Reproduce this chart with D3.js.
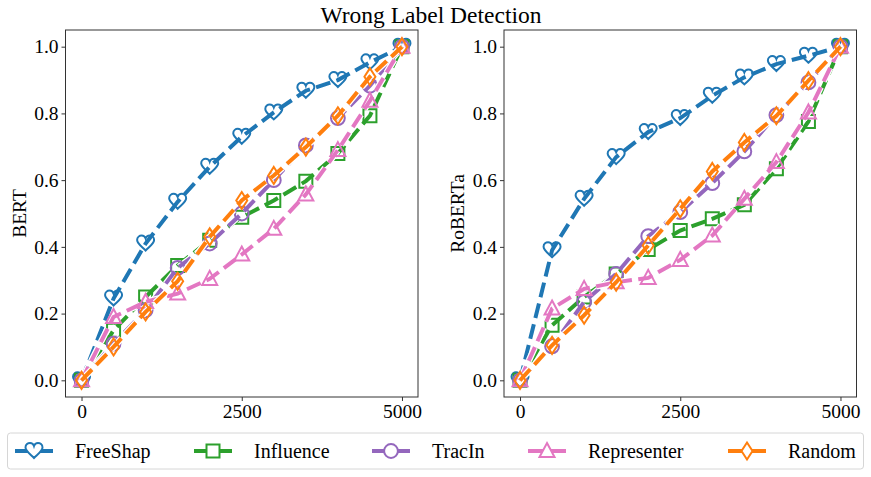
<!DOCTYPE html>
<html>
<head>
<meta charset="utf-8">
<script src="https://cdn.jsdelivr.net/npm/d3@7"></script>
<style>
  body { margin: 0; background: #fff; }
  text { font-family: "Liberation Serif", "Times New Roman", serif; fill: #000; }
</style>
</head>
<body>
<div id="chart"></div>
<script>
const steps = [0, 500, 1000, 1500, 2000, 2500, 3000, 3500, 4000, 4500, 5000];
const methods = ["FreeShap", "Influence", "TracIn", "Representer", "Random"];
const xTicks = [0, 2500, 5000];
const yTicks = [0, 0.2, 0.4, 0.6, 0.8, 1.0];

// BERT
const bertFreeShap    = [0, 0.245, 0.41, 0.535, 0.64, 0.73, 0.803, 0.868, 0.90, 0.953, 1.0];
const bertInfluence   = [0, 0.15, 0.25, 0.344, 0.42, 0.489, 0.539, 0.597, 0.68, 0.793, 1.0];
const bertTracIn      = [0, 0.11, 0.21, 0.337, 0.41, 0.50, 0.60, 0.704, 0.786, 0.883, 1.0];
const bertRepresenter = [0, 0.19, 0.235, 0.26, 0.304, 0.377, 0.454, 0.557, 0.69, 0.838, 1.0];
const bertRandom      = [0, 0.10, 0.205, 0.297, 0.43, 0.539, 0.614, 0.699, 0.793, 0.91, 1.0];

// RoBERTa
const robFreeShap    = [0, 0.39, 0.544, 0.669, 0.744, 0.786, 0.853, 0.908, 0.948, 0.973, 1.0];
const robInfluence   = [0, 0.165, 0.25, 0.319, 0.392, 0.449, 0.484, 0.526, 0.634, 0.776, 1.0];
const robTracIn      = [0, 0.102, 0.235, 0.319, 0.432, 0.504, 0.591, 0.686, 0.795, 0.893, 1.0];
const robRepresenter = [0, 0.215, 0.274, 0.294, 0.307, 0.361, 0.434, 0.544, 0.654, 0.803, 1.0];
const robRandom      = [0, 0.105, 0.195, 0.294, 0.404, 0.514, 0.626, 0.713, 0.793, 0.898, 1.0];

const COLORS = ["#1f77b4", "#2ca02c", "#9467bd", "#e377c2", "#ff7f0e"];
const MARKERS = ["heart", "square", "circle", "triangle", "diamond"];

const panels = [
  { label: "BERT", left: 65.5, series: [bertFreeShap, bertInfluence, bertTracIn, bertRepresenter, bertRandom] },
  { label: "RoBERTa", left: 504, series: [robFreeShap, robInfluence, robTracIn, robRepresenter, robRandom] }
];

const W = 871, H = 477;
const axW = 352.5, axTop = 30, axH = 367;
const FONT = "'Liberation Serif', 'Times New Roman', serif";

const svg = d3.select("#chart").append("svg").attr("width", W).attr("height", H);

function markerPath(type) {
  switch (type) {
    case "heart":
      return "M0,7 C-4,3 -8.5,0 -8.5,-3.5 C-8.5,-6.5 -6,-8 -4,-8 C-2,-8 -0.5,-6.5 0,-5 C0.5,-6.5 2,-8 4,-8 C6,-8 8.5,-6.5 8.5,-3.5 C8.5,0 4,3 0,7 Z";
    case "square":
      return "M-6.5,-6.5 L6.5,-6.5 L6.5,6.5 L-6.5,6.5 Z";
    case "circle":
      return d3.symbol(d3.symbolCircle, 150)();
    case "triangle":
      return "M0,-8 L7.5,6 L-7.5,6 Z";
    case "diamond":
      return "M0,-8.5 L5.5,0 L0,8.5 L-5.5,0 Z";
  }
}

svg.append("text")
  .attr("x", 431).attr("y", 23)
  .attr("text-anchor", "middle")
  .style("font-size", "23.5px")
  .text("Wrong Label Detection");

panels.forEach(p => {
  const x = d3.scaleLinear().domain([-250, 5250]).range([p.left, p.left + axW]);
  const y = d3.scaleLinear().domain([-0.05, 1.05]).range([axTop + axH, axTop]);
  const g = svg.append("g");

  const clipId = "clip-" + p.label;
  g.append("clipPath").attr("id", clipId)
    .append("rect").attr("x", p.left).attr("y", axTop).attr("width", axW).attr("height", axH);

  const plot = g.append("g").attr("clip-path", `url(#${clipId})`);
  const line = d3.line().x((d, i) => x(steps[i])).y(d => y(d));

  p.series.forEach((vals, k) => {
    const s = plot.append("g");
    s.append("path")
      .attr("d", line(vals))
      .attr("fill", "none")
      .attr("stroke", "#fff")
      .attr("stroke-width", 6.5)
      .attr("stroke-dasharray", "15,6.4");
    s.append("path")
      .attr("d", line(vals))
      .attr("fill", "none")
      .attr("stroke", COLORS[k])
      .attr("stroke-width", 4)
      .attr("stroke-dasharray", "15,6.4");
    s.selectAll("path.mk")
      .data(vals)
      .join("path")
      .attr("class", "mk")
      .attr("transform", (d, i) => `translate(${x(steps[i])},${y(d)})`)
      .attr("d", markerPath(MARKERS[k]))
      .attr("fill", "none")
      .attr("stroke", COLORS[k])
      .attr("stroke-width", 2);
  });

  g.append("rect")
    .attr("x", p.left).attr("y", axTop).attr("width", axW).attr("height", axH)
    .attr("fill", "none").attr("stroke", "#333").attr("stroke-width", 1);

  const xAxis = g.append("g")
    .attr("transform", `translate(0,${axTop + axH})`)
    .call(d3.axisBottom(x).tickValues(xTicks).tickFormat(d3.format("d")).tickSize(4).tickPadding(3));
  const yAxis = g.append("g")
    .attr("transform", `translate(${p.left},0)`)
    .call(d3.axisLeft(y).tickValues(yTicks).tickFormat(d3.format(".1f")).tickSize(4).tickPadding(3));
  [xAxis, yAxis].forEach(a => {
    a.attr("font-family", FONT).attr("font-size", 19.5);
    a.select(".domain").remove();
    a.selectAll(".tick line").attr("stroke", "#333");
    a.selectAll(".tick text").style("font-family", FONT).style("font-size", "19.5px");
  });

  svg.append("text")
    .attr("transform", `translate(${p.left - 40},${axTop + axH / 2}) rotate(-90)`)
    .attr("text-anchor", "middle")
    .style("font-size", "19.5px")
    .text(p.label);
});

// legend
const legend = svg.append("g");
legend.append("rect")
  .attr("x", 7.5).attr("y", 433).attr("width", 856).attr("height", 36)
  .attr("rx", 3)
  .attr("fill", "#fff").attr("stroke", "#d6d6d6").attr("stroke-width", 1);

const legendX = [15, 194, 372, 528, 728];
methods.forEach((m, k) => {
  const lg = legend.append("g").attr("transform", `translate(${legendX[k]},451)`);
  lg.append("line")
    .attr("x1", 0).attr("x2", 38).attr("y1", 0).attr("y2", 0)
    .attr("stroke", COLORS[k]).attr("stroke-width", 4);
  lg.append("path")
    .attr("transform", "translate(19,0)")
    .attr("d", markerPath(MARKERS[k]))
    .attr("fill", "#fff").attr("stroke", COLORS[k]).attr("stroke-width", 2);
  lg.append("text")
    .attr("x", 60).attr("y", 0).attr("dy", "0.35em")
    .style("font-size", "20px")
    .text(m);
});
</script>
</body>
</html>
